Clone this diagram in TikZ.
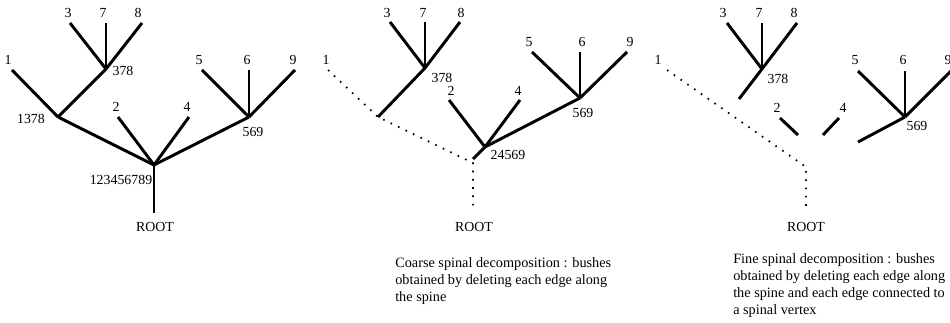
\documentclass[tikz,border=0pt]{standalone}
\usepackage{fontspec}
\setmainfont{Liberation Serif}

\begin{document}
\begin{tikzpicture}[x=0.75pt, y=-0.75pt,
    edge/.style={line width=2.2pt},
    spine/.style={line width=1.3pt, dash pattern=on 1.2pt off 5pt},
    lbl/.style={inner sep=0pt, font=\fontsize{10.4}{12.7}\selectfont},
    caption/.style={inner sep=0pt, anchor=north west, align=left, font=\fontsize{10.7}{12.9}\selectfont}]
    \useasboundingbox(0,0)rectangle(950,323);
    % whole tree
    \coordinate(A-r)at(154,213);
    \coordinate(A-v)at(154,165);
    \coordinate(A-a)at(58,117);
    \coordinate(A-b)at(106,69);
    \coordinate(A-c)at(249,117);
    \foreach \n/\x/\y in {1/12/70, 3/70/23, 7/106/23, 8/142/23, 2/118/117, 4/189/117, 5/202/70, 6/249/70, 9/295/70}
        \coordinate(A-t\n)at(\x,\y);
    \foreach \n/\x/\y in {1/8/60, 3/68/13, 7/103/13, 8/138/13, 2/116/107, 4/187/107, 5/199/60, 6/247/60, 9/293/60}
        \node[lbl](A-l\n)at(\x,\y){\n};
    \node[lbl](A-n1378)at(31,119){1378};
    \node[lbl](A-n378)at(123,71){378};
    \node[lbl](A-n569)at(253,132){569};
    \node[lbl](A-nall)at(121,180){123456789};
    \node[lbl](A-root)at(155,227){ROOT};
    \draw[edge](A-r)--(A-v);
    \draw[edge](A-v)--(A-a);
    \draw[edge](A-a)--(A-t1);
    \draw[edge](A-a)--(A-b);
    \draw[edge](A-v)--(A-c);
    \foreach \n in {3,7,8} \draw[edge](A-b)--(A-t\n);
    \foreach \n in {2,4} \draw[edge](A-v)--(A-t\n);
    \foreach \n in {5,6,9} \draw[edge](A-c)--(A-t\n);

    % coarse decomposition
    \coordinate(B-r)at(473,208);
    \coordinate(B-s)at(473,163);
    \coordinate(B-j)at(378,117);
    \coordinate(B-b)at(425,68);
    \coordinate(B-e)at(473,159);
    \coordinate(B-v)at(485,147);
    \coordinate(B-c)at(580,98);
    \foreach \n/\x/\y in {1/328/70, 3/390/22, 7/425/22, 8/460/22, 2/449/100, 4/520/100, 5/532/52, 6/580/52, 9/627/52}
        \coordinate(B-t\n)at(\x,\y);
    \foreach \n/\x/\y in {1/326/60, 3/387/13, 7/423/13, 8/461/13, 2/451/91, 4/518/91, 5/529/42, 6/582/42, 9/630/42}
        \node[lbl](B-l\n)at(\x,\y){\n};
    \node[lbl](B-n378)at(442,78){378};
    \node[lbl](B-n24569)at(508,155){24569};
    \node[lbl](B-n569)at(583,113){569};
    \node[lbl](B-root)at(474,227){ROOT};
    \draw[spine](B-t1)--(B-j)--(B-s)--(B-r);
    \draw[edge](B-j)--(B-b);
    \draw[edge](B-e)--(B-v);
    \draw[edge](B-v)--(B-c);
    \foreach \n in {3,7,8} \draw[edge](B-b)--(B-t\n);
    \foreach \n in {2,4} \draw[edge](B-v)--(B-t\n);
    \foreach \n in {5,6,9} \draw[edge](B-c)--(B-t\n);
    \node[caption](B-cap)at(395,257){Coarse spinal decomposition : bushes\\obtained by deleting each edge along\\the spine};

    % fine decomposition
    \coordinate(C-r)at(806,208);
    \coordinate(C-s)at(806,167);
    \coordinate(C-b)at(762,69);
    \coordinate(C-bl)at(739,99);
    \coordinate(C-u2)at(798,135);
    \coordinate(C-u4)at(823,135);
    \coordinate(C-c)at(905,117);
    \coordinate(C-cl)at(858,142);
    \foreach \n/\x/\y in {1/667/70, 3/727/23, 7/762/23, 8/797/23, 2/780/118, 4/839/118, 5/858/71, 6/905/71, 9/952/70}
        \coordinate(C-t\n)at(\x,\y);
    \foreach \n/\x/\y in {1/658/60, 3/723/13, 7/759/13, 8/794/13, 2/777/108, 4/843/108, 5/855/60, 6/903/60, 9/948/60}
        \node[lbl](C-l\n)at(\x,\y){\n};
    \node[lbl](C-n378)at(778,79){378};
    \node[lbl](C-n569)at(917,126){569};
    \node[lbl](C-root)at(806,227){ROOT};
    \draw[spine](C-t1)--(C-s)--(C-r);
    \draw[edge](C-bl)--(C-b);
    \draw[edge](C-t2)--(C-u2);
    \draw[edge](C-u4)--(C-t4);
    \draw[edge](C-cl)--(C-c);
    \foreach \n in {3,7,8} \draw[edge](C-b)--(C-t\n);
    \foreach \n in {5,6,9} \draw[edge](C-c)--(C-t\n);
    \node[caption](C-cap)at(733,253){Fine spinal decomposition : bushes\\obtained by deleting each edge along\\the spine and each edge connected to\\a spinal vertex};
\end{tikzpicture}
\end{document}
